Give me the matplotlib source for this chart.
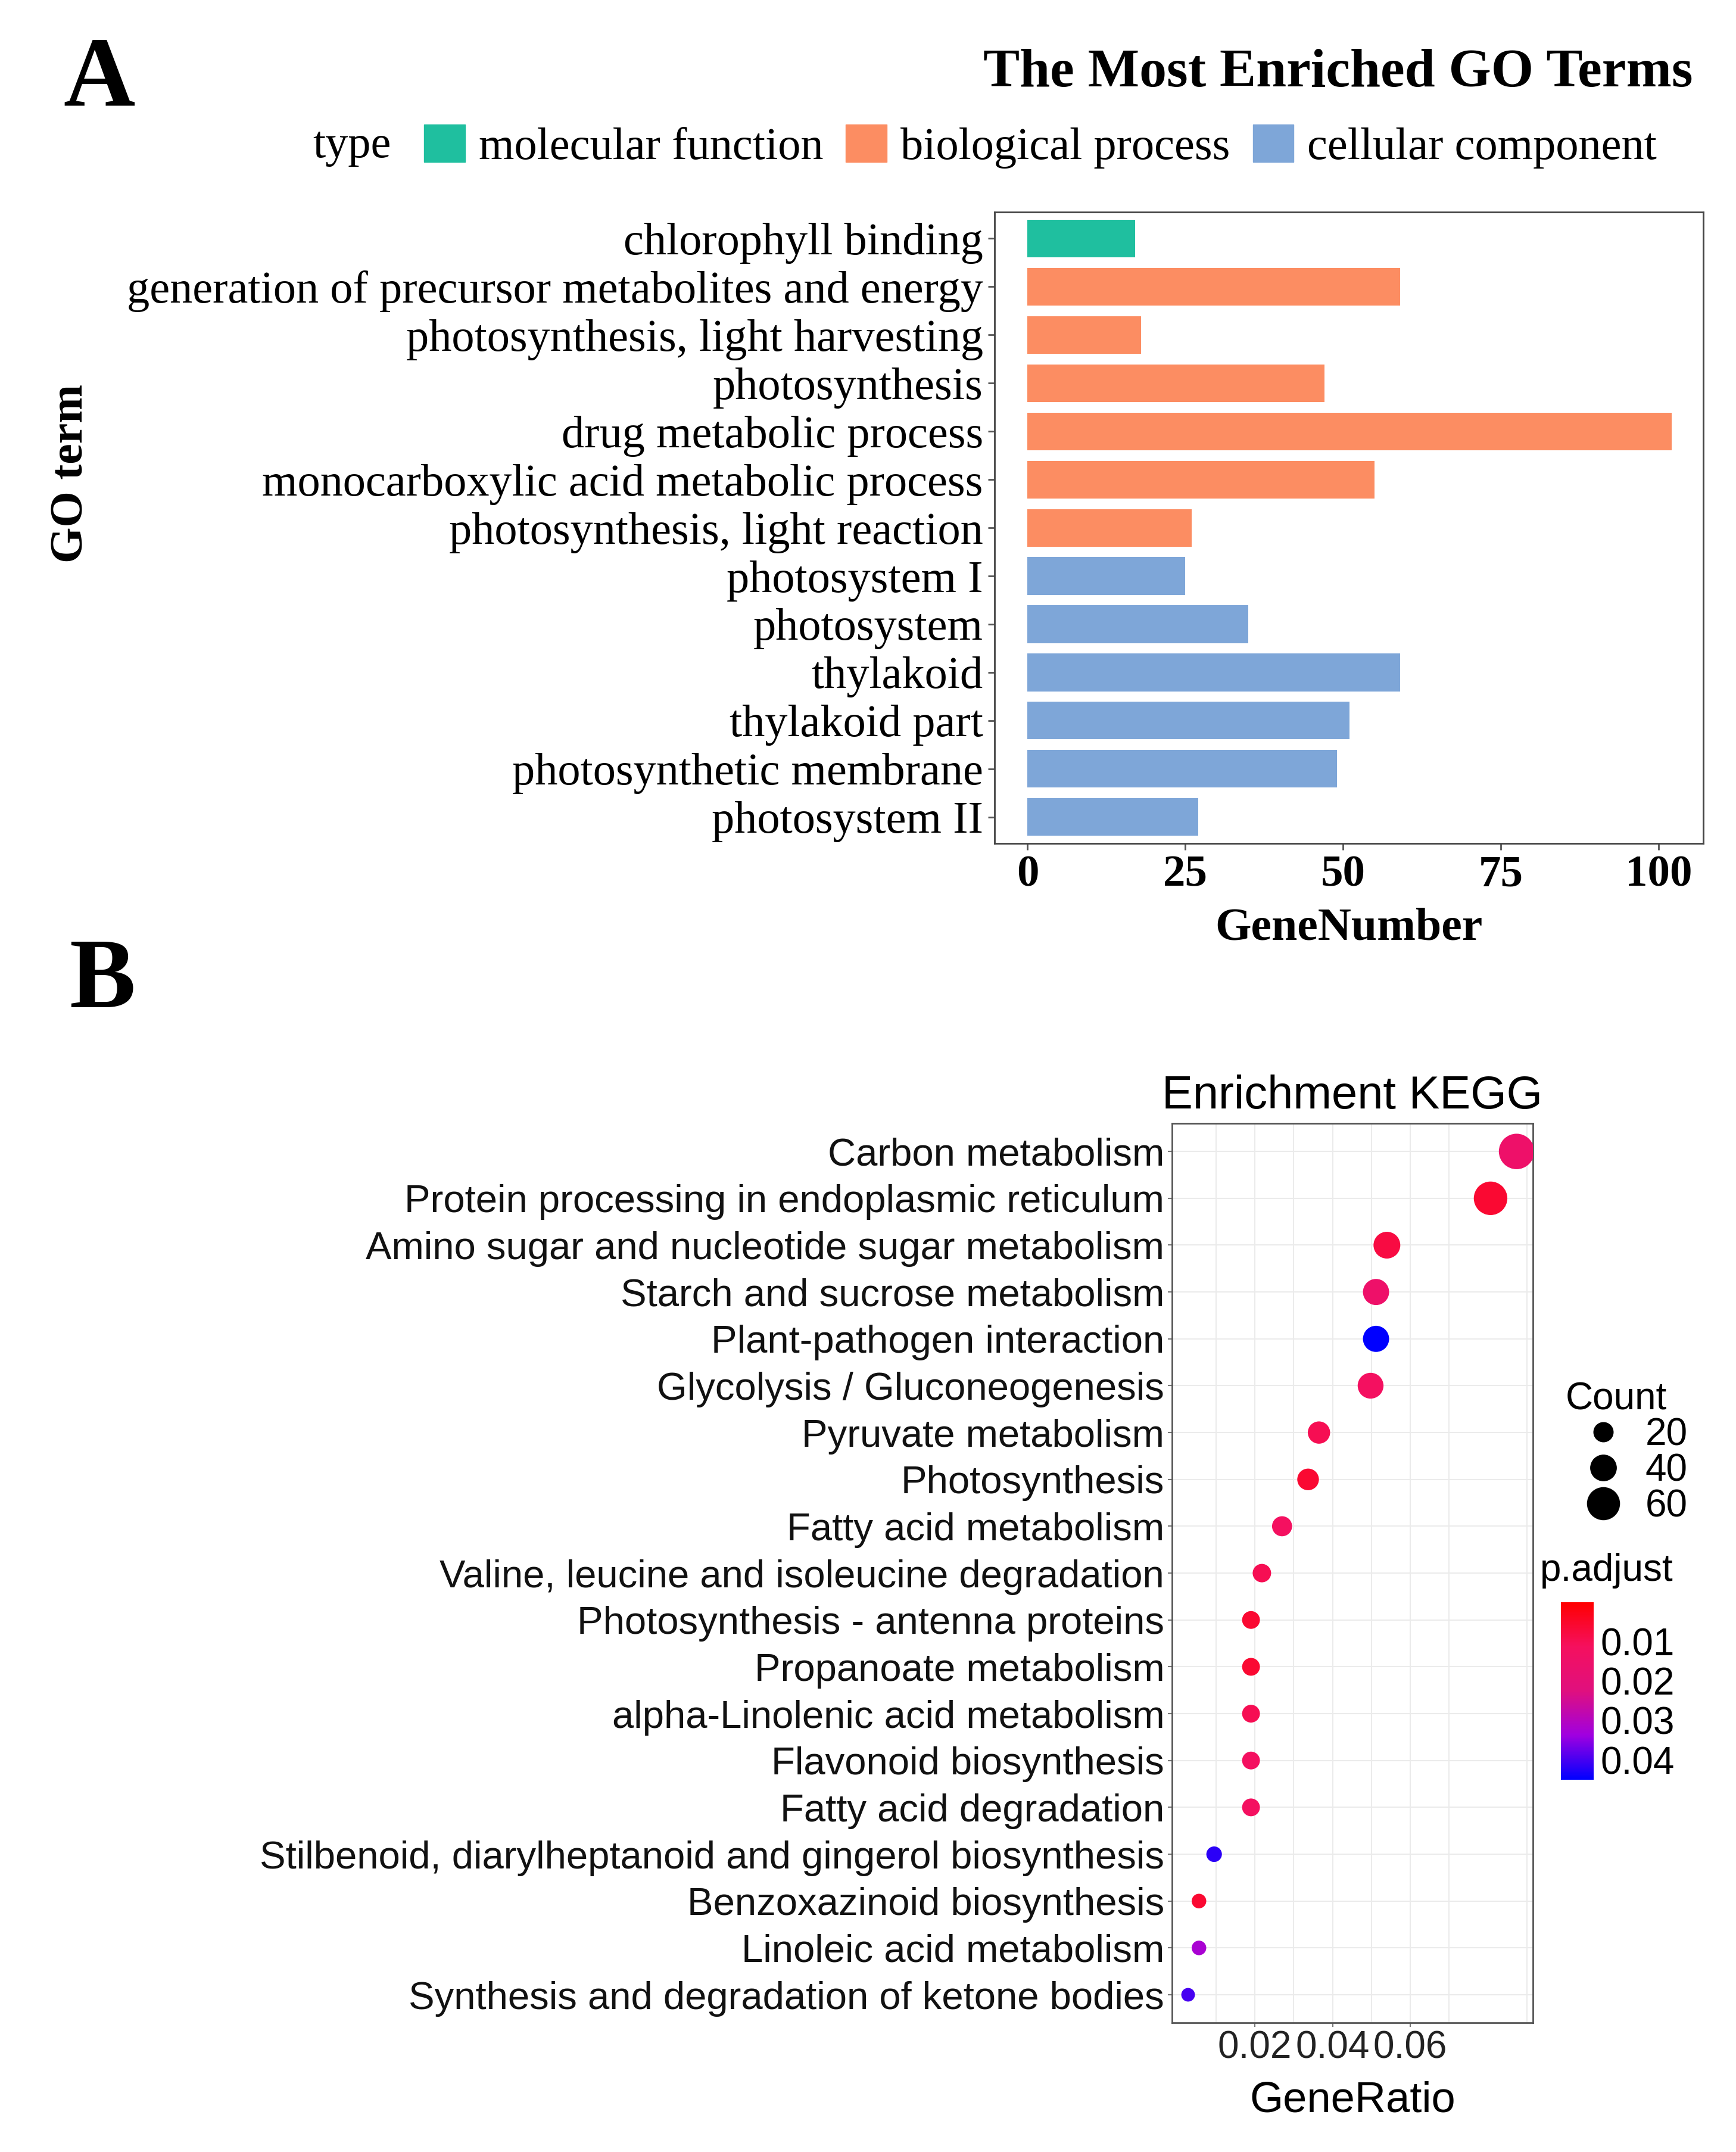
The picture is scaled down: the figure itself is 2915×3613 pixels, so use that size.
import matplotlib
matplotlib.use("Agg")
import matplotlib.pyplot as plt
from matplotlib.colors import LinearSegmentedColormap
from matplotlib.lines import Line2D
from matplotlib.patches import Patch
from matplotlib.offsetbox import HPacker

# ---- panel A data
go_terms = ["chlorophyll binding", "generation of precursor metabolites and energy",
            "photosynthesis, light harvesting", "photosynthesis", "drug metabolic process",
            "monocarboxylic acid metabolic process", "photosynthesis, light reaction",
            "photosystem I", "photosystem", "thylakoid", "thylakoid part",
            "photosynthetic membrane", "photosystem II"]
go_counts = [17, 59, 18, 47, 102, 55, 26, 25, 35, 59, 51, 49, 27]
go_types = ["molecular function"] + ["biological process"] * 6 + ["cellular component"] * 6
type_colors = {"molecular function": "#1FBF9F", "biological process": "#FC8D62",
               "cellular component": "#7EA6D8"}

# ---- panel B data
kegg_terms = ["Carbon metabolism", "Protein processing in endoplasmic reticulum",
              "Amino sugar and nucleotide sugar metabolism", "Starch and sucrose metabolism",
              "Plant-pathogen interaction", "Glycolysis / Gluconeogenesis", "Pyruvate metabolism",
              "Photosynthesis", "Fatty acid metabolism", "Valine, leucine and isoleucine degradation",
              "Photosynthesis - antenna proteins", "Propanoate metabolism",
              "alpha-Linolenic acid metabolism", "Flavonoid biosynthesis", "Fatty acid degradation",
              "Stilbenoid, diarylheptanoid and gingerol biosynthesis", "Benzoxazinoid biosynthesis",
              "Linoleic acid metabolism", "Synthesis and degradation of ketone bodies"]
gene_ratio = [0.0874, 0.0807, 0.0540, 0.0512, 0.0512, 0.0498, 0.0365, 0.0337, 0.0270, 0.0218,
              0.0190, 0.0190, 0.0190, 0.0190, 0.0190, 0.0095, 0.0056, 0.0056, 0.0028]
kegg_count = [70, 64, 43, 41, 41, 40, 29, 27, 22, 17, 15, 15, 15, 15, 15, 8, 5, 5, 2]
p_adjust = [0.015, 0.006, 0.008, 0.015, 0.045, 0.012, 0.010, 0.006, 0.012, 0.010,
            0.006, 0.006, 0.010, 0.012, 0.012, 0.042, 0.006, 0.032, 0.040]
legend_counts = [20, 40, 60]

W, H = 2915, 3613
fig = plt.figure(figsize=(W / 100, H / 100), dpi=100)
serif = "Liberation Serif"
sans = "Liberation Sans"

# ---------------- Panel A
axA = fig.add_axes([0.573, 0.608, 0.408, 0.2935])
yA = list(range(len(go_terms)))
axA.barh(yA, go_counts, height=0.78, color=[type_colors[t] for t in go_types])
axA.set_ylim(len(go_terms) - 0.45, -0.55)
axA.set_xlim(-5.2, 107)
axA.set_xticks([0, 25, 50, 75, 100])
axA.set_xticklabels(["0", "25", "50", "75", "100"], fontfamily=serif, fontweight="bold", fontsize=54)
axA.set_yticks(yA)
axA.set_yticklabels(go_terms, fontfamily=serif, fontsize=55)
axA.tick_params(length=8, width=2, color="#555555", pad=6)
for s in axA.spines.values():
    s.set_color("#444444")
    s.set_linewidth(2)
axA.set_xlabel("GeneNumber", fontfamily=serif, fontweight="bold", fontsize=56, labelpad=14)
fig.text(0.041, 0.78, "GO term", rotation=90, va="center", ha="center",
         fontfamily=serif, fontweight="bold", fontsize=56)
fig.text(0.975, 0.966, "The Most Enriched GO Terms", ha="right", va="center",
         fontfamily=serif, fontweight="bold", fontsize=66)
fig.text(0.057, 0.962, "A", ha="center", va="center", fontfamily=serif,
         fontweight="bold", fontsize=120)
fig.text(0.059, 0.543, "B", ha="center", va="center", fontfamily=serif,
         fontweight="bold", fontsize=120)
handles = [Patch(color=type_colors[t]) for t in type_colors]
leg = fig.legend(handles, list(type_colors), loc="center right", bbox_to_anchor=(0.978, 0.932),
                 ncol=3, frameon=False, prop={"family": serif, "size": 55},
                 title="type", title_fontproperties={"family": serif, "size": 55},
                 handlelength=0.9, handleheight=0.9, handletextpad=0.3, columnspacing=0.5)
tb = leg._legend_box
tb.__class__ = HPacker
tb.sep = 40

# ---------------- Panel B
axB = fig.add_axes([0.675, 0.060, 0.208, 0.418])
cmap = LinearSegmentedColormap.from_list("rb", ["#FF0000", "#F5105E", "#E0107E", "#A000E0", "#0000FF"])
yB = list(range(len(kegg_terms)))
size_of = lambda c: ((9.5 + 0.235 * c) * 1.652) ** 2
sc = axB.scatter(gene_ratio, yB, s=[size_of(c) for c in kegg_count], c=p_adjust,
                 cmap=cmap, vmin=0.0, vmax=0.045, zorder=3, linewidths=0)
axB.set_ylim(len(kegg_terms) - 0.4, -0.6)
axB.set_xlim(-0.0014, 0.0916)
axB.set_xticks([0.02, 0.04, 0.06])
axB.set_xticklabels(["0.02", "0.04", "0.06"], fontfamily=sans, fontsize=46, color="#222222")
axB.set_yticks(yB)
axB.set_yticklabels(kegg_terms, fontfamily=sans, fontsize=47, color="#111111")
axB.set_xticks([0.01, 0.03, 0.05, 0.07, 0.09], minor=True)
axB.grid(True, which="both", color="#EBEBEB", lw=1.5, zorder=0)
axB.tick_params(length=5, width=1.5, color="#777777", pad=4)
axB.tick_params(which="minor", length=0)
for s in axB.spines.values():
    s.set_color("#555555")
    s.set_linewidth(2)
axB.set_xlabel("GeneRatio", fontfamily=sans, fontsize=52, labelpad=18)
axB.set_title("Enrichment KEGG", fontfamily=sans, fontsize=56, pad=18)

cax = fig.add_axes([0.899, 0.173, 0.019, 0.0826])
cb = fig.colorbar(sc, cax=cax)
cb.set_ticks([0.01, 0.02, 0.03, 0.04])
cb.ax.invert_yaxis()
cb.ax.tick_params(labelsize=46, length=6, color="white", pad=2)
for t in cb.ax.get_yticklabels():
    t.set_fontfamily(sans)
cb.outline.set_visible(False)
fig.text(0.887, 0.270, "p.adjust", fontfamily=sans, fontsize=46, va="center")

size_handles = [Line2D([], [], ls="", marker="o", color="black",
                       markersize=size_of(c) ** 0.5) for c in legend_counts]
fig.legend(size_handles, [str(c) for c in legend_counts], loc="upper left",
           bbox_to_anchor=(0.882, 0.374), frameon=False, title="Count",
           prop={"family": sans, "size": 46},
           title_fontproperties={"family": sans, "size": 46},
           handletextpad=0.1, labelspacing=0.0, alignment="left")

fig.savefig("out.png", dpi=100)
